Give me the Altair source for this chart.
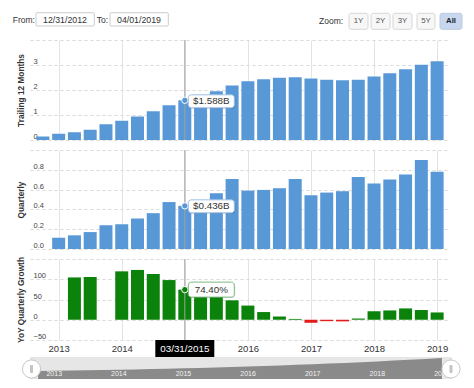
import altair as alt
import pandas as pd

# ---------------- data ----------------
quarters = ["12/31/2012", "03/31/2013", "06/30/2013", "09/30/2013", "12/31/2013",
            "03/31/2014", "06/30/2014", "09/30/2014", "12/31/2014",
            "03/31/2015", "06/30/2015", "09/30/2015", "12/31/2015",
            "03/31/2016", "06/30/2016", "09/30/2016", "12/31/2016",
            "03/31/2017", "06/30/2017", "09/30/2017", "12/31/2017",
            "03/31/2018", "06/30/2018", "09/30/2018", "12/31/2018",
            "03/31/2019"]
ttm = [0.14, 0.25, 0.31, 0.41, 0.63, 0.77, 0.94, 1.15, 1.39, 1.588, 1.74, 1.95, 2.18,
       2.35, 2.43, 2.49, 2.51, 2.46, 2.41, 2.39, 2.41, 2.54, 2.67, 2.83, 3.01, 3.15]
quarterly = [None, 0.114, 0.138, 0.171, 0.24, 0.25, 0.308, 0.362, 0.474, 0.436, 0.48,
             0.563, 0.706, 0.59, 0.597, 0.614, 0.706, 0.543, 0.57, 0.584, 0.727, 0.661,
             0.702, 0.753, 0.90, 0.78]
yoy = [None, None, 104.5, 105.5, None, 119.5, 123, 113, 98, 74.4, 57, 57, 48, 35, 19,
       8, 2, -7.5, -3.5, -4, 3, 21, 23, 28, 24, 18]
navigator_level = [8, 8.2, 8.5, 8.8, 9, 9.3, 9.6, 10, 10.3, 10.7, 11, 11.5, 12, 12.5,
                   13, 13.6, 14.2, 14.8, 15.5, 16.1, 16.8, 17.6, 18.4, 19.2, 20.1, 21]
year_labels = ["2013", "2014", "2015", "2016", "2017", "2018", "2019"]
year_quarters = ["03/31/2013", "03/31/2014", "03/31/2015", "03/31/2016",
                 "03/31/2017", "03/31/2018", "03/31/2019"]
hover_quarter = "03/31/2015"
from_date = "12/31/2012"
to_date = "04/01/2019"
zoom_buttons = ["1Y", "2Y", "3Y", "5Y", "All"]

# ---------------- tables ----------------
df = pd.DataFrame({
    "i": list(range(len(quarters))),
    "quarter": quarters,
    "ttm": ttm,
    "q": quarterly,
    "yoy": yoy,
    "nav": navigator_level,
})
year_idx = [quarters.index(q) for q in year_quarters]
years_df = pd.DataFrame({"i": year_idx, "year": year_labels})
h = quarters.index(hover_quarter)
hover = pd.DataFrame({
    "i": [h], "quarter": [hover_quarter],
    "ttm": [ttm[h]], "q": [quarterly[h]], "yoy": [yoy[h]],
    "ttm_lbl": [f"${ttm[h]:.3f}B"], "q_lbl": [f"${quarterly[h]:.3f}B"],
    "yoy_lbl": [f"{yoy[h]:.2f}%"],
})
dummy = pd.DataFrame({"a": [0]})

# ---------------- styling ----------------
FONT = "Liberation Sans"
W = 420
BLUE = "#5898d6"
GREEN = "#0b830b"
RED = "#e31b1b"
xscale = alt.Scale(domain=[-0.5, len(quarters) - 0.5], nice=False, zero=False)
# the hovered year's axis label sits under the black date flag, as in the original
label_expr = " : ".join(f"datum.value == {v} ? '{'' if v == h else l}'"
                        for v, l in zip(year_idx, year_labels)) + " : ''"


def xaxis(show_labels):
    return alt.Axis(values=year_idx, tickCount=50, grid=True, gridColor="#e3e3e3",
                    gridWidth=1, ticks=False, tickSize=0, domain=False,
                    labels=show_labels, title=None,
                    labelExpr=label_expr, labelFlush=False, labelPadding=3,
                    labelBaseline="top", labelFontSize=9.5, labelColor="#333",
                    labelOverlap=False)


def yaxis(title, values, fmt, hide, height):
    return alt.Axis(values=values, tickCount=50, format=fmt, grid=True,
                    gridColor="#d9d9d9", gridDash=[3, 3], ticks=False, tickSize=0,
                    domain=False,
                    labelAlign="left", labelPadding=-3, labelBaseline="alphabetic",
                    labelOffset=-1.5, labelFontSize=7.5, labelColor="#444",
                    labelExpr=f"datum.value == {hide} ? '' : datum.label",
                    labelOverlap=False, labelBound=False,
                    title=title, titleX=-9, titleY=height / 2, titleAngle=-90,
                    titleAlign="center", titleBaseline="middle", titleFontSize=8.3,
                    titleFontWeight="bold", titleColor="#333")


def panel(field, lbl_field, title, domain, values, fmt, hide, height, color,
          show_x, box_off, stroke):
    ysc = alt.Scale(domain=domain, nice=False, zero=False)
    base = alt.Chart(df)
    if field == "yoy":
        bar_color = alt.condition("datum.yoy < 0", alt.value(RED), alt.value(GREEN))
    else:
        bar_color = alt.value(color)
    bars = base.mark_bar(size=13).encode(
        x=alt.X("i:Q", scale=xscale, axis=xaxis(show_x)),
        y=alt.Y(f"{field}:Q", scale=ysc, axis=yaxis(title, values, fmt, hide, height)),
        y2=alt.datum(0),
        color=bar_color,
    )
    hv = alt.Chart(hover)
    cross = hv.mark_rule(color="#a0a0a0", strokeWidth=1).encode(
        x="i:Q", y=alt.value(0), y2=alt.value(height))
    marker = hv.mark_point(filled=True, size=40, color=color, stroke="white",
                           strokeWidth=1, opacity=1).encode(x="i:Q", y=f"{field}:Q")
    shadow = hv.mark_rect(fill="#000000", opacity=0.12, cornerRadius=3,
                          xOffset=4.5, x2Offset=50.5,
                          yOffset=box_off[0] + 1, y2Offset=box_off[1] + 1).encode(
        x="i:Q", x2="i", y=f"{field}:Q", y2=field)
    box = hv.mark_rect(fill="white", stroke=stroke, strokeWidth=1, cornerRadius=3,
                       xOffset=3.5, x2Offset=49.5,
                       yOffset=box_off[0], y2Offset=box_off[1]).encode(
        x="i:Q", x2="i", y=f"{field}:Q", y2=field)
    txt = hv.mark_text(fontSize=9.8, color="#333", align="center", baseline="middle",
                       dx=26.5, dy=(box_off[0] + box_off[1]) / 2).encode(
        x="i:Q", y=f"{field}:Q", text=f"{lbl_field}:N")
    return [bars, cross, marker, shadow, box, txt]


# ---------------- header ----------------
def htext(label, x, y, align="left", size=8.5, color="#333", weight="normal"):
    return alt.Chart(dummy).mark_text(text=label, align=align, baseline="middle",
                                      fontSize=size, color=color, fontWeight=weight).encode(
        x=alt.value(x), y=alt.value(y))


def hrect(x, x2, y, y2, fill, stroke=None, radius=0, opacity=1):
    kw = dict(fill=fill, cornerRadius=radius, opacity=opacity)
    if stroke:
        kw.update(stroke=stroke, strokeWidth=1)
    return alt.Chart(dummy).mark_rect(**kw).encode(
        x=alt.value(x), x2=alt.value(x2), y=alt.value(y), y2=alt.value(y2))


header_layers = [
    hrect(-22, 435, -2, 369, "white"),
    htext("From:", -17.3, 10),
    hrect(6, 64.3, 2.7, 16, "white", "#cccccc", 1),
    htext(from_date, 35, 9.5, "center", 8.8),
    htext("To:", 66.7, 10),
    hrect(80, 138.3, 2.7, 16, "white", "#cccccc", 1),
    htext(to_date, 109, 9.5, "center", 8.8),
    htext("Zoom:", 289, 11),
]
btn_x = [(319, 338), (341, 360), (363, 382), (387, 405), (410, 432)]
for lab, (bx, bx2) in zip(zoom_buttons, btn_x):
    active = lab == "All"
    header_layers.append(hrect(bx, bx2, 3.3, 19.3, "#c6d7ef" if active else "#f7f7f7",
                               "#bccbe0" if active else "#d6d6d6", 2))
    header_layers.append(htext(lab, (bx + bx2) / 2, 11.3, "center", 7.8,
                               "#222" if active else "#555",
                               "bold" if active else "normal"))
header = alt.layer(*header_layers).properties(width=W, height=20)

# ---------------- panels ----------------
p1 = alt.layer(*panel("ttm", "ttm_lbl", "Trailing 12 Months", [0, 4], [0, 1, 2, 3, 4],
                      "d", 4, 100, BLUE, False, (-5.5, 7.5), "#9dbfe3")
               ).properties(width=W, height=100)
p2 = alt.layer(*panel("q", "q_lbl", "Quarterly", [0, 1], [0, 0.2, 0.4, 0.6, 0.8, 1.0],
                      ".1f", 1, 99, BLUE, False, (-6, 7), "#9dbfe3")
               ).properties(width=W, height=99)

p3_layers = panel("yoy", "yoy_lbl", "YoY Quarterly Growth", [-50, 150],
                  [-50, 0, 50, 100, 150], "d", 150, 81, GREEN, True, (-7.5, 7.5), "#7fb87f")
hv = alt.Chart(hover)
p3_layers.append(hv.mark_rect(fill="black", xOffset=-29.5, x2Offset=29.5).encode(
    x="i:Q", x2="i", y=alt.value(81), y2=alt.value(98)))
p3_layers.append(hv.mark_text(color="white", fontSize=9.8, align="center",
                              baseline="middle").encode(
    x="i:Q", y=alt.value(89.5), text="quarter:N"))
p3 = alt.layer(*p3_layers).properties(width=W, height=81)

# ---------------- navigator ----------------
band = alt.Chart(dummy).mark_rect(fill="#e6e6e6").encode(
    x=alt.value(0), x2=alt.value(422), y=alt.value(7), y2=alt.value(29))
nav_area = alt.Chart(df).mark_area(color="#8a8a8a", opacity=1).encode(
    x=alt.X("i:Q", scale=xscale, axis=None),
    y=alt.Y("nav:Q", scale=alt.Scale(domain=[0, 22], range=[29, 7]), axis=None),
    y2=alt.value(29))
nav_years = alt.Chart(years_df).mark_text(color="#f2f2f2", fontSize=7, align="center",
                                          baseline="middle").encode(
    x=alt.X("i:Q", scale=xscale, axis=None), y=alt.value(24), text="year:N")
handles = []
for hx in (1.5, 421):
    handles.append(alt.Chart(dummy).mark_point(shape="circle", filled=True, fill="white",
                                               stroke="#c8c8c8", strokeWidth=1, size=330,
                                               opacity=1).encode(
        x=alt.value(hx), y=alt.value(19)))
    handles.append(alt.Chart(dummy).mark_rect(fill="#c4c4c4", cornerRadius=1).encode(
        x=alt.value(hx - 1.5), x2=alt.value(hx + 1.5), y=alt.value(15), y2=alt.value(23)))
nav = alt.layer(band, nav_area, nav_years, *handles).properties(width=W, height=30)

chart = alt.vconcat(header, p1, p2, p3, nav, spacing=10, bounds="flush").properties(
    padding=0
).configure(font=FONT).configure_view(stroke=None)

chart.save("out.html", embed_options={"renderer": "svg", "actions": False})
